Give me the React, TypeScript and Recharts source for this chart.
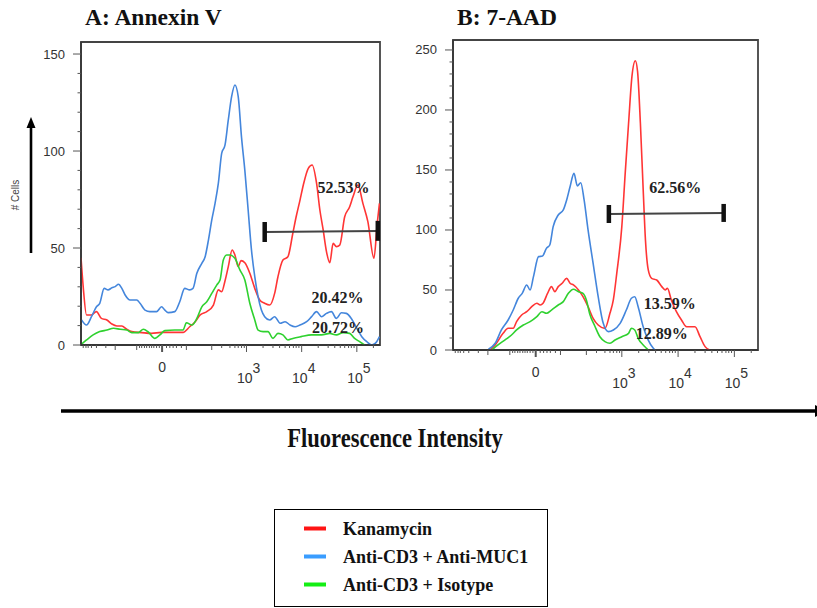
import React from 'react';
import { LineChart, Line, XAxis, YAxis, ReferenceLine, ReferenceDot, ReferenceArea } from 'recharts';

// ---------- series / legend ----------
const SERIES_NAMES = ['Kanamycin', 'Anti-CD3 + Anti-MUC1', 'Anti-CD3 + Isotype'];
const LINE_COLORS = ['#ff3535', '#4486dc', '#2fd12f'];
const LEGEND_COLORS = ['#ff1414', '#3a9dff', '#14ee14'];

// ---------- axes (x = display position on biexponential scale, decades) ----------
const X_DOMAIN: [number, number] = [0, 5.42];
const X_MAJOR_TICKS = [1.47, 3, 4, 5];
const X_MAJOR_LABELS = ['0', '10|3', '10|4', '10|5'];
const X_MEDIUM_TICKS = [0.62, 1.01, 1.91, 2.37];
const X_MINOR_TICKS = [
  0.04, 0.09, 0.13, 0.19, 0.28, 0.45, 0.62, 1.01, 1.06, 1.1, 1.15, 1.19, 1.24, 1.28, 1.32, 1.37, 1.42,
  1.55, 1.61, 1.67, 1.73, 1.82, 1.91, 2.37, 2.55, 2.7, 2.79, 2.85, 2.91, 2.96,
  3.3, 3.48, 3.6, 3.7, 3.78, 3.85, 3.9, 3.95, 4.3, 4.48, 4.6, 4.7, 4.78, 4.85, 4.9, 4.95, 5.3,
];

const A_Y_MAX = 156.2;
const A_Y_MAJOR = [0, 50, 100, 150];
const A_Y_TICKS = [0, 10, 20, 30, 40, 50, 60, 70, 80, 90, 100, 110, 120, 130, 140, 150];
const B_Y_MAX = 258.3;
const B_Y_MAJOR = [0, 50, 100, 150, 200, 250];
const B_Y_TICKS = [0, 10, 20, 30, 40, 50, 60, 70, 80, 90, 100, 110, 120, 130, 140, 150, 160, 170, 180, 190, 200, 210, 220, 230, 240, 250];

// ---------- panel A: Annexin V ----------
const annexinKanamycin: [number, number][] = [
  [0.0, 45], [0.04, 30], [0.1, 15.5], [0.19, 15.5], [0.28, 17.2], [0.37, 13.7], [0.47, 12.9], [0.56, 10.8],
  [0.65, 9.8], [0.74, 9.8], [0.83, 8.1], [0.92, 6.9], [1.1, 6.4], [1.28, 6.0], [1.46, 6.5], [1.7, 6.5],
  [1.85, 6.5], [1.97, 9.4], [2.07, 12], [2.16, 15.5], [2.28, 17.2], [2.4, 20.6], [2.49, 28.4], [2.55, 27.5],
  [2.61, 33], [2.67, 40.4], [2.74, 49], [2.79, 46.4], [2.85, 40.4], [2.9, 43.5], [2.97, 42.4], [3.06, 37],
  [3.15, 29.2], [3.24, 23.2], [3.33, 21.5], [3.42, 20.6], [3.51, 26.6], [3.57, 35.2], [3.66, 43.8], [3.75, 45.5],
  [3.84, 57.6], [3.9, 66.1], [3.97, 74.7], [4.03, 82.5], [4.12, 91.1], [4.19, 92.8], [4.27, 83.4], [4.33, 69.6],
  [4.39, 59.3], [4.45, 48.1], [4.51, 42.4], [4.57, 52.4], [4.63, 50.7], [4.69, 51.5], [4.78, 66.1], [4.87, 71.3],
  [4.93, 76.4], [5.02, 82.5], [5.11, 73], [5.2, 63.6], [5.31, 44.7], [5.37, 62.7], [5.41, 73],
];
const annexinMuc1: [number, number][] = [
  [0.01, 12.9], [0.1, 10.3], [0.19, 14.6], [0.28, 19.7], [0.34, 21.5], [0.42, 29.2], [0.49, 28.4], [0.56, 29.5],
  [0.62, 30.1], [0.68, 31.3], [0.74, 29.2], [0.8, 25.8], [0.89, 23.2], [1.01, 23.2], [1.07, 21.5], [1.16, 18],
  [1.25, 17.2], [1.37, 17.2], [1.46, 19.7], [1.52, 18], [1.58, 16.7], [1.7, 17.2], [1.79, 22.3], [1.88, 29.2],
  [1.97, 28.4], [2.03, 29.2], [2.1, 37], [2.19, 42.1], [2.25, 45.5], [2.31, 54.1], [2.37, 64.4], [2.43, 73],
  [2.49, 83.4], [2.55, 98.8], [2.61, 103], [2.67, 116], [2.73, 128], [2.79, 134], [2.85, 128], [2.91, 107],
  [2.97, 90], [3.03, 69.6], [3.09, 49], [3.15, 35.2], [3.21, 24.9], [3.27, 18], [3.33, 14.6], [3.42, 12.9],
  [3.51, 14.6], [3.61, 11.2], [3.7, 12], [3.79, 10.3], [3.88, 9.4], [3.97, 10.3], [4.09, 12], [4.18, 14.6],
  [4.27, 17.2], [4.36, 14.6], [4.45, 16.3], [4.54, 17.2], [4.63, 13.7], [4.72, 16.6], [4.81, 16.3], [4.9, 13.7],
  [5.0, 8.6], [5.09, 4.3], [5.18, 1.7], [5.27, 0], [5.36, 1.7], [5.41, 4.3],
];
const annexinIsotype: [number, number][] = [
  [0.01, 0.5], [0.1, 2.6], [0.22, 5.2], [0.34, 6.9], [0.47, 7.7], [0.59, 8.6], [0.71, 8.1], [0.83, 7.7],
  [0.92, 6.4], [1.04, 6.4], [1.13, 8.1], [1.22, 6.7], [1.34, 3.4], [1.43, 5.2], [1.52, 7.4], [1.7, 7.7],
  [1.85, 7.7], [1.91, 11.5], [2.01, 10.3], [2.1, 13.7], [2.19, 19.7], [2.28, 22.3], [2.37, 26.6], [2.46, 30.9],
  [2.52, 33.5], [2.58, 43.8], [2.64, 46.4], [2.7, 46.4], [2.79, 44.7], [2.88, 38.7], [2.97, 33.5], [3.06, 21.5],
  [3.15, 12.9], [3.21, 7.7], [3.3, 6.9], [3.39, 6.9], [3.48, 3.4], [3.57, 6], [3.66, 5.2], [3.75, 2.6],
  [3.84, 3.4], [3.99, 4.3], [4.18, 5.2], [4.36, 5.2], [4.51, 6], [4.63, 5.2], [4.75, 6.4], [4.87, 6],
  [4.96, 3.4], [5.05, 1.7], [5.14, 0],
];

// ---------- panel B: 7-AAD ----------
const aadKanamycin: [number, number][] = [
  [0.66, 0], [0.75, 4.2], [0.89, 13.9], [0.98, 18.1], [1.07, 18.1], [1.13, 23.6], [1.22, 29.2], [1.31, 31.9],
  [1.4, 36.1], [1.49, 38.9], [1.55, 37.5], [1.6, 38.9], [1.68, 47.2], [1.75, 52.8], [1.81, 48.6], [1.87, 52.8],
  [1.94, 55.6], [2.02, 59.7], [2.08, 55.6], [2.14, 54.2], [2.23, 50], [2.31, 44.4], [2.4, 36.1], [2.49, 26.4],
  [2.58, 20.8], [2.7, 18], [2.79, 30.8], [2.85, 42], [2.91, 63.9], [3.0, 102.8], [3.06, 147.2], [3.12, 188.9],
  [3.18, 228], [3.24, 241], [3.28, 232], [3.33, 188.9], [3.38, 133.3], [3.42, 91.7], [3.47, 66.7], [3.53, 59.7],
  [3.62, 58.3], [3.71, 52.8], [3.77, 50], [3.81, 51.4], [3.88, 41.7], [3.97, 31.9], [4.06, 25], [4.15, 19.4],
  [4.24, 19.4], [4.3, 19.4], [4.39, 11.1], [4.48, 2.8], [4.56, 0],
];
const aadMuc1: [number, number][] = [
  [0.63, 0.6], [0.75, 5.6], [0.86, 16.7], [0.98, 25], [1.07, 33.3], [1.16, 43.1], [1.23, 47.2], [1.31, 54.2],
  [1.37, 50], [1.43, 61.1], [1.52, 77.8], [1.59, 78.3], [1.66, 84.7], [1.72, 87.5], [1.78, 102.8], [1.87, 112.5],
  [1.96, 116.7], [2.02, 125], [2.08, 136], [2.15, 147.2], [2.21, 136.7], [2.27, 139.4], [2.33, 125], [2.4, 100],
  [2.49, 72.2], [2.58, 44.4], [2.67, 22.2], [2.76, 15.3], [2.85, 16.7], [2.97, 22.2], [3.08, 33.3], [3.17, 43.1],
  [3.23, 44.4], [3.29, 36.1], [3.38, 19.4], [3.47, 8.3], [3.56, 1.4], [3.59, 0],
];
const aadIsotype: [number, number][] = [
  [0.69, 0], [0.8, 4.2], [0.92, 8.3], [1.04, 12.5], [1.13, 16.7], [1.25, 20.8], [1.37, 23.6], [1.49, 27.8],
  [1.58, 31.9], [1.66, 30.6], [1.75, 33.3], [1.87, 37.5], [1.96, 40.3], [2.05, 47.2], [2.14, 50.6], [2.23, 48.6],
  [2.31, 47.2], [2.37, 41.7], [2.43, 30], [2.52, 20], [2.61, 11], [2.7, 7], [2.79, 5.6], [2.88, 8.3],
  [3.0, 11.1], [3.12, 13.9], [3.17, 18.1], [3.23, 16.7], [3.29, 9.7], [3.38, 4.2], [3.44, 1.4], [3.47, 0],
];

// ---------- gates and percentages ----------
const A_GATE = { x1: 3.33, y1: 58.2, x2: 5.38, y2: 58.8, capLow: 53.1, capHigh: 63.4 };
const A_PERCENTS: { x: number; y: number; text: string }[] = [
  { x: 4.76, y: 81.4, text: '52.53%' },
  { x: 4.65, y: 24.7, text: '20.42%' },
  { x: 4.66, y: 9.3, text: '20.72%' },
];
const B_GATE = { x1: 2.77, y1: 113.3, x2: 4.81, y2: 114.2, capLow: 105.8, capHigh: 120.8 };
const B_PERCENTS: { x: number; y: number; text: string }[] = [
  { x: 3.95, y: 135.8, text: '62.56%' },
  { x: 3.85, y: 39.2, text: '13.59%' },
  { x: 3.71, y: 14.2, text: '12.89%' },
];

const SERIF = '"Liberation Serif", "Times New Roman", serif';
const SANS = '"Liberation Sans", Arial, sans-serif';

function mergeSeries(lists: [number, number][][]) {
  const rows: Record<string, number>[] = [];
  lists.forEach((list, i) => list.forEach(([u, v]) => rows.push({ u, ['s' + i]: v })));
  rows.sort((a, b) => a.u - b.u);
  return rows;
}

const XTick = (props: any) => {
  const { x, y, payload } = props;
  const v = payload.value as number;
  const mi = X_MAJOR_TICKS.findIndex((m) => Math.abs(m - v) < 1e-6);
  const medium = X_MEDIUM_TICKS.some((m) => Math.abs(m - v) < 1e-6);
  const len = mi >= 0 ? 7 : medium ? 5 : 3;
  let label: React.ReactNode = null;
  if (mi >= 0) {
    const lab = X_MAJOR_LABELS[mi];
    if (lab.includes('|')) {
      const [base, exp] = lab.split('|');
      label = (
        <g fontFamily={SANS} fontSize={14} fill="#333">
          <text x={x + 6} y={y + 33} textAnchor="end" dominantBaseline="central">{base}</text>
          <text x={x + 6} y={y + 23} textAnchor="start" dominantBaseline="central">{exp}</text>
        </g>
      );
    } else {
      label = (
        <text x={x} y={y + 22} textAnchor="middle" dominantBaseline="central" fontFamily={SANS} fontSize={14} fill="#333">
          {lab}
        </text>
      );
    }
  }
  return (
    <g>
      <line x1={x} y1={y} x2={x} y2={y + len} stroke="#555" strokeWidth={mi === 0 ? 2 : 1} />
      {label}
    </g>
  );
};

const makeYTick = (majors: number[]) => (props: any) => {
  const { x, y, payload } = props;
  const v = payload.value as number;
  const major = majors.includes(v);
  return (
    <g>
      <line x1={x} y1={y} x2={x - (major ? 8 : 3.5)} y2={y} stroke="#555" strokeWidth={1} />
      {major && (
        <text x={x - 16} y={y} textAnchor="end" dominantBaseline="central" fontFamily={SANS} fontSize={13} fill="#333">
          {v}
        </text>
      )}
    </g>
  );
};

const pctLabel = (text: string) => ({
  value: text,
  position: 'center' as const,
  fontSize: 16,
  fontWeight: 700,
  fontFamily: SERIF,
  fill: '#222',
});

function Panel(props: {
  lists: [number, number][][];
  yMax: number;
  yTicks: number[];
  yMajors: number[];
  gate: typeof A_GATE;
  percents: { x: number; y: number; text: string }[];
  width: number;
  height: number;
  margin: { top: number; right: number; bottom: number; left: number };
  yWidth: number;
  xHeight: number;
}) {
  const rows = mergeSeries(props.lists);
  const g = props.gate;
  return (
    <LineChart width={props.width} height={props.height} data={rows} margin={props.margin}>
      <XAxis
        type="number"
        dataKey="u"
        domain={X_DOMAIN}
        ticks={[...X_MINOR_TICKS, ...X_MAJOR_TICKS].sort((a, b) => a - b)}
        interval={0}
        tick={<XTick />}
        tickLine={false}
        tickSize={0}
        tickMargin={0}
        height={props.xHeight}
        axisLine={{ stroke: '#333', strokeWidth: 1.5 }}
        allowDataOverflow
      />
      <YAxis
        type="number"
        domain={[0, props.yMax]}
        ticks={props.yTicks}
        interval={0}
        tick={makeYTick(props.yMajors)}
        tickLine={false}
        tickSize={0}
        tickMargin={0}
        width={props.yWidth}
        axisLine={{ stroke: '#333', strokeWidth: 1.5 }}
        allowDataOverflow
      />
      <ReferenceArea x1={X_DOMAIN[0]} x2={X_DOMAIN[1]} y1={0} y2={props.yMax} fill="none" stroke="#444" strokeWidth={1.8} ifOverflow="visible" />
      {props.lists.map((_, i) => (
        <Line
          key={i}
          dataKey={'s' + i}
          name={SERIES_NAMES[i]}
          stroke={LINE_COLORS[i]}
          strokeWidth={1.6}
          dot={false}
          connectNulls
          type="monotone"
          isAnimationActive={false}
        />
      ))}
      <ReferenceLine segment={[{ x: g.x1, y: g.y1 }, { x: g.x2, y: g.y2 }]} stroke="#444" strokeWidth={2} ifOverflow="visible" />
      <ReferenceLine segment={[{ x: g.x1, y: g.capLow }, { x: g.x1, y: g.capHigh }]} stroke="#111" strokeWidth={4.5} ifOverflow="visible" />
      <ReferenceLine
        segment={[{ x: g.x2, y: g.capLow + (g.y2 - g.y1) }, { x: g.x2, y: g.capHigh + (g.y2 - g.y1) }]}
        stroke="#111"
        strokeWidth={4.5}
        ifOverflow="visible"
      />
      {props.percents.map((p) => (
        <ReferenceDot key={p.text} x={p.x} y={p.y} r={0} fill="none" stroke="none" ifOverflow="visible" label={pctLabel(p.text)} />
      ))}
    </LineChart>
  );
}

export default function App() {
  return (
    <div style={{ position: 'absolute', left: 0, top: 0, width: 817, height: 608, background: '#fff', overflow: 'hidden' }}>
      <svg width={817} height={608} style={{ position: 'absolute', left: 0, top: 0 }}>
        <text x={85} y={25} fontFamily={SERIF} fontWeight={700} fontSize={23.5} fill="#111">A: Annexin V</text>
        <text x={457} y={25} fontFamily={SERIF} fontWeight={700} fontSize={23.5} fill="#111">B: 7-AAD</text>
        {/* y arrow */}
        <line x1={31} y1={253} x2={31} y2={126} stroke="#000" strokeWidth={2.6} />
        <polygon points="31,117 26.5,128 35.5,128" fill="#000" />
        <text x={0} y={0} transform="translate(19,195) rotate(-90)" textAnchor="middle" fontFamily={SANS} fontSize={10} fill="#444">
          # Cells
        </text>
        {/* x arrow */}
        <line x1={61} y1={411} x2={815} y2={411} stroke="#000" strokeWidth={3.5} />
        <polygon points="826,411 815,405 815,417" fill="#000" />
        <text
          x={0}
          y={0}
          transform="translate(395,447) scale(0.96,1.15)"
          textAnchor="middle"
          fontFamily={SERIF}
          fontWeight={700}
          fontSize={23.5}
          fill="#111"
        >
          Fluorescence Intensity
        </text>
      </svg>
      <div style={{ position: 'absolute', left: 0, top: 0 }}>
        <Panel
          lists={[annexinKanamycin, annexinMuc1, annexinIsotype]}
          yMax={A_Y_MAX}
          yTicks={A_Y_TICKS}
          yMajors={A_Y_MAJOR}
          gate={A_GATE}
          percents={A_PERCENTS}
          width={400}
          height={400}
          margin={{ top: 42, right: 20, bottom: 10, left: 0 }}
          yWidth={81}
          xHeight={45}
        />
      </div>
      <div style={{ position: 'absolute', left: 400, top: 0 }}>
        <Panel
          lists={[aadKanamycin, aadMuc1, aadIsotype]}
          yMax={B_Y_MAX}
          yTicks={B_Y_TICKS}
          yMajors={B_Y_MAJOR}
          gate={B_GATE}
          percents={B_PERCENTS}
          width={417}
          height={400}
          margin={{ top: 40, right: 59, bottom: 5, left: 0 }}
          yWidth={53}
          xHeight={45}
        />
      </div>
      <div
        style={{
          position: 'absolute',
          left: 274,
          top: 509,
          width: 274,
          height: 98,
          border: '1.5px solid #000',
          boxSizing: 'border-box',
        }}
      >
        <svg width={271} height={95} style={{ position: 'absolute', left: 0, top: 0 }}>
          {SERIES_NAMES.map((name, i) => (
            <g key={name}>
              <line x1={29} x2={51} y1={18.5 + i * 28} y2={18.5 + i * 28} stroke={LEGEND_COLORS[i]} strokeWidth={4} />
              <text x={68} y={18.5 + i * 28} dominantBaseline="central" fontFamily={SERIF} fontWeight={700} fontSize={18} fill="#111">
                {name}
              </text>
            </g>
          ))}
        </svg>
      </div>
    </div>
  );
}
